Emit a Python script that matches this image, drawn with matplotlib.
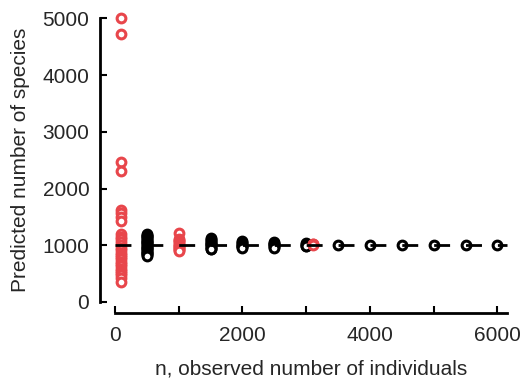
import numpy as np
import matplotlib
matplotlib.use("Agg")
import matplotlib.pyplot as plt

plt.rcParams['font.family'] = ['Liberation Sans', 'DejaVu Sans']

# predicted species by sample size (red = flagged groups)
red_groups = {
    100: [5000, 4730, 2460, 2310, 1620, 1570, 1500, 1420, 1190, 1150, 1110, 1060,
          1000, 950, 910, 870, 830, 790, 750, 710, 670, 630, 590, 550, 510, 470,
          430, 350],
    1000: [1220, 1110, 1090, 1070, 1050, 1030, 1010, 990, 970, 950, 930, 910, 900],
    3100: [1030, 1020, 1010],
}
black_groups = {
    500: [1200, 1185, 1170, 1155, 1140, 1125, 1110, 1095, 1080, 1065, 1050, 1035,
          1020, 1005, 990, 975, 960, 945, 930, 915, 900, 885, 870, 855, 840, 825, 810],
    1500: [1120, 1105, 1090, 1075, 1060, 1045, 1030, 1015, 1000, 985, 970, 955, 940, 930],
    2000: [1070, 1055, 1040, 1025, 1010, 995, 980, 965, 950],
    2500: [1060, 1045, 1030, 1015, 1000, 985, 970, 960],
    3000: [1040, 1025, 1010, 995, 985],
    3500: [1010],
    4000: [1010],
    4500: [1010],
    5000: [1010],
    5500: [1010],
    6000: [1010],
}
true_species = 1000

xticks = [0, 1000, 2000, 3000, 4000, 5000, 6000]
xticklabels = ['0', '', '2000', '', '4000', '', '6000']
yticks = [0, 1000, 2000, 3000, 4000, 5000]

red = '#e8464b'
txt = '#262626'

fig = plt.figure(figsize=(5.24, 3.83), dpi=100)
ax = fig.add_axes([0.2195, 0.2115, 0.748, 0.7405])
xmax = 6150
ax.set_xlim(0, xmax)
ax.set_ylim(0, 5000)

for n, vals in black_groups.items():
    ax.plot([n] * len(vals), vals, 'o', ms=6.3, mfc='white', mec='black', mew=2.2,
            clip_on=False, zorder=3)
for n, vals in red_groups.items():
    ax.plot([n] * len(vals), vals, 'o', ms=6.3, mfc='white', mec=red, mew=2.2,
            clip_on=False, zorder=4)

# dashed reference line, dash = 250 x-units
lw = 2
dash_pt = 0.748 * 5.24 * 72 / xmax * 250 / lw
ax.plot([0, xmax], [true_species, true_species], color='black', lw=lw,
        dashes=(dash_pt, dash_pt), zorder=5, clip_on=False)

for s in ['top', 'right']:
    ax.spines[s].set_visible(False)
ax.spines['left'].set_position(('outward', 10.5))
ax.spines['bottom'].set_position(('outward', 8))
ax.spines['left'].set_linewidth(2)
ax.spines['bottom'].set_linewidth(2)
ax.spines['bottom'].set_bounds(0, xmax)

ax.set_xticks(xticks)
ax.set_xticklabels(xticklabels)
ax.set_yticks(yticks)
ax.tick_params(direction='in', length=5, width=1.5, labelsize=15, colors='black',
               labelcolor=txt)
ax.tick_params(axis='x', pad=9)
ax.tick_params(axis='y', pad=8)

ax.set_xlabel('n, observed number of individuals', fontsize=15, color=txt, labelpad=11)
ax.set_ylabel('Predicted number of species', fontsize=15, color=txt, labelpad=9)

fig.savefig('out.png', dpi=100)
